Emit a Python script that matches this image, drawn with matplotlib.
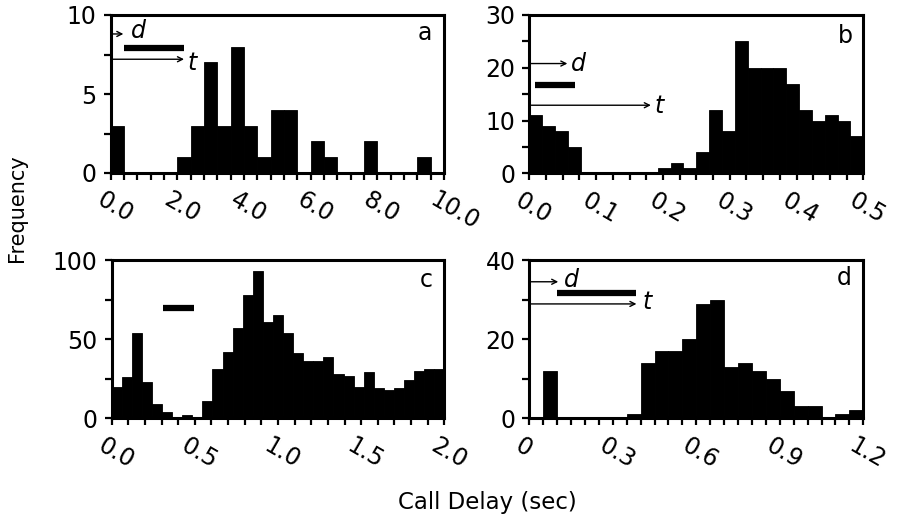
import numpy as np
import matplotlib
matplotlib.use("Agg")
import matplotlib.pyplot as plt
from matplotlib.ticker import MultipleLocator, FixedLocator
import matplotlib.transforms as mtransforms

plt.rcParams['font.family'] = ['DejaVu Sans']

# ---------------- data ----------------
a_counts = [3, 0, 0, 0, 0, 1, 3, 7, 3, 8, 3, 1, 4, 4, 0, 2, 1, 0, 0, 2, 0, 0, 0, 1, 0]
a_bin_width = 0.4
b_counts = [11, 9, 8, 5, 0, 0, 0, 0, 0, 0, 1, 2, 1, 4, 12, 8, 25, 20, 20, 20, 17, 12, 10, 11, 10, 7]
b_bin_width = 0.5 / 26
c_counts = [20, 26, 54, 23, 9, 4, 1, 2, 1, 11, 31, 42, 57, 78, 93, 61, 65, 54, 41, 36, 36, 39,
            28, 27, 20, 29, 19, 18, 19, 24, 30, 31, 31]
c_bin_width = 2.0 / 33
d_counts = [0, 12, 0, 0, 0, 0, 0, 1, 14, 17, 17, 20, 29, 30, 13, 14, 12, 10, 7, 3, 3, 0, 1, 2]
d_bin_width = 0.05

a_xticks = [0, 2, 4, 6, 8, 10]
a_xlabels = ['0.0', '2.0', '4.0', '6.0', '8.0', '10.0']
b_xticks = [0, 0.1, 0.2, 0.3, 0.4, 0.5]
b_xlabels = ['0.0', '0.1', '0.2', '0.3', '0.4', '0.5']
c_xticks = [0, 0.5, 1.0, 1.5, 2.0]
c_xlabels = ['0.0', '0.5', '1.0', '1.5', '2.0']
d_xticks = [0, 0.3, 0.6, 0.9, 1.2]
d_xlabels = ['0', '0.3', '0.6', '0.9', '1.2']

a_yticks = [0, 5, 10]
b_yticks = [0, 10, 20, 30]
c_yticks = [0, 50, 100]
d_yticks = [0, 20, 40]

# annotation geometry (data coords): d-arrow, bar, t-arrow
a_ann = dict(d=(0.38, 8.8), dtext=(0.6, 8.55), bar=(0.4, 2.2, 7.9), t=(2.2, 7.2), ttext=(2.3, 6.55))
b_ann = dict(d=(0.057, 20.8), dtext=(0.062, 19.3), bar=(0.009, 0.069, 16.7), t=(0.182, 12.9), ttext=(0.188, 11.4))
c_ann = dict(bar=(0.306, 0.494, 69.5))
d_ann = dict(d=(0.104, 34.5), dtext=(0.125, 33.2), bar=(0.1, 0.385, 31.7), t=(0.385, 28.9), ttext=(0.405, 27.6))

W, H = 898, 522
fig = plt.figure(figsize=(W / 100, H / 100), dpi=100)


def make_ax(l, r, t, b):
    return fig.add_axes([l / W, 1 - b / H, (r - l) / W, (b - t) / H])


FS = 17

panels = [
    (make_ax(110.7, 444.0, 15.0, 173.0), a_counts, a_bin_width, (0, 10), (0, 10), a_xticks, a_xlabels, 0.4, a_yticks, 2.5, 'a', a_ann, (0.964, 0.842)),
    (make_ax(529.3, 863.3, 15.0, 173.3), b_counts, b_bin_width, (0, 0.5), (0, 30), b_xticks, b_xlabels, 0.025, b_yticks, 5, 'b', b_ann, (0.970, 0.823)),
    (make_ax(111.7, 444.3, 260.0, 418.3), c_counts, c_bin_width, (0, 2.0), (0, 100), c_xticks, c_xlabels, 0.1, c_yticks, 25, 'c', c_ann, (0.966, 0.829)),
    (make_ax(529.3, 863.3, 260.0, 418.3), d_counts, d_bin_width, (0, 1.2), (0, 40), d_xticks, d_xlabels, 0.05, d_yticks, 10, 'd', d_ann, (0.966, 0.842)),
]

for ax, counts, bw, xl, yl, xt, xlab, xminor, yt, yminor, letter, ann, lpos in panels:
    lefts = np.arange(len(counts)) * bw
    ax.bar(lefts, counts, width=bw, align='edge', color='black', edgecolor='black', linewidth=0.6)
    ax.set_xlim(*xl)
    ax.set_ylim(*yl)
    for sp in ax.spines.values():
        sp.set_linewidth(2.2)
    ax.xaxis.set_major_locator(FixedLocator(xt))
    ax.xaxis.set_minor_locator(MultipleLocator(xminor))
    ax.yaxis.set_major_locator(FixedLocator(yt))
    ax.yaxis.set_minor_locator(MultipleLocator(yminor))
    ax.tick_params(axis='both', which='both', direction='out', length=5, width=1.6, top=False, right=False)
    ax.tick_params(axis='y', which='major', labelsize=FS, pad=5)
    ax.set_yticklabels([str(v) for v in yt])
    ax.set_xticklabels(xlab, rotation=-30, ha='left', va='top', rotation_mode='anchor', fontsize=FS)
    offset = mtransforms.ScaledTranslation(-6 / 100, -3 / 100, fig.dpi_scale_trans)
    for lab in ax.get_xticklabels():
        lab.set_transform(lab.get_transform() + offset)
    ax.text(lpos[0], lpos[1], letter, transform=ax.transAxes, ha='right', va='baseline', fontsize=FS)

    if 'd' in ann:
        ax.annotate('', xy=(ann['d'][0], ann['d'][1]), xytext=(0, ann['d'][1]),
                    arrowprops=dict(arrowstyle='->', lw=1.0, color='black', shrinkA=0, shrinkB=0, mutation_scale=9))
        ax.text(ann['dtext'][0], ann['dtext'][1], 'd', style='italic', fontsize=FS, ha='left', va='baseline')
        ax.annotate('', xy=(ann['t'][0], ann['t'][1]), xytext=(0, ann['t'][1]),
                    arrowprops=dict(arrowstyle='->', lw=1.0, color='black', shrinkA=0, shrinkB=0, mutation_scale=9))
        ax.text(ann['ttext'][0], ann['ttext'][1], 't', style='italic', fontsize=FS, ha='left', va='baseline')
    x0, x1, yb = ann['bar']
    ax.plot([x0, x1], [yb, yb], color='black', lw=4.5, solid_capstyle='butt')

fig.text(487 / W, 1 - 509 / H, 'Call Delay (sec)', ha='center', va='baseline', fontsize=16.5)
fig.text(17.5 / W, 1 - 208 / H, 'Frequency', ha='center', va='center', rotation=90, fontsize=15)

fig.savefig('out.png', dpi=100)
